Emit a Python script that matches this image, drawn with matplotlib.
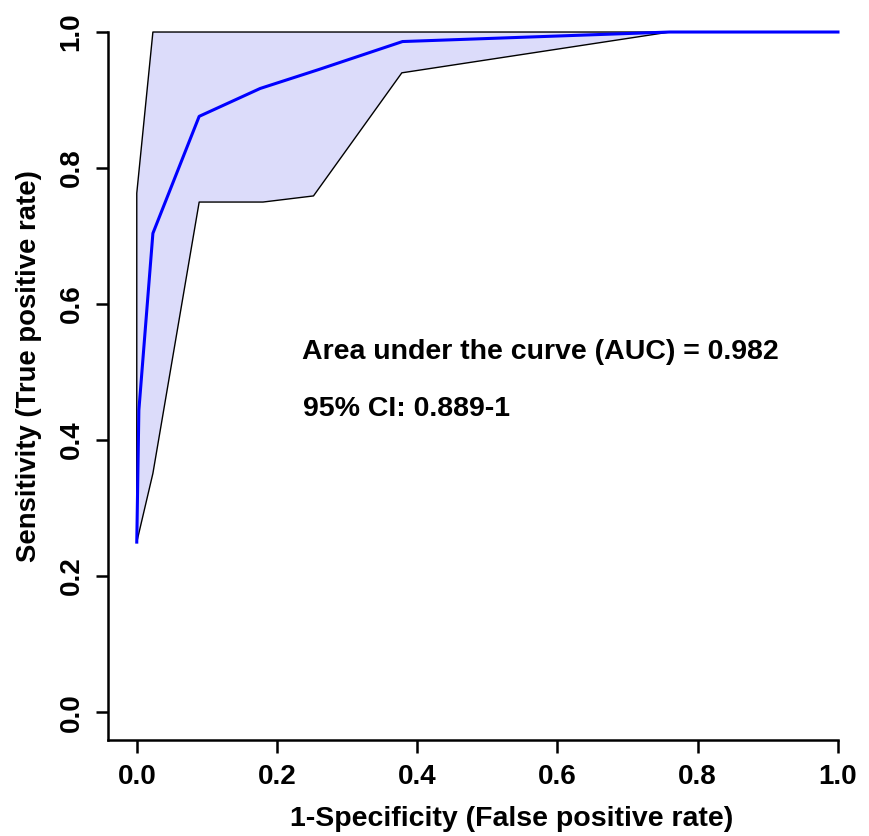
import matplotlib
matplotlib.use('Agg')
import matplotlib.pyplot as plt

# ROC curve (1-specificity vs sensitivity)
roc_fpr = [0.0, 0.003, 0.023, 0.089, 0.176, 0.26, 0.379, 0.76, 1.0]
roc_tpr = [0.25, 0.444, 0.704, 0.876, 0.917, 0.945, 0.986, 1.0, 1.0]

# confidence band edges
upper_fpr = [0.0, 0.0, 0.023, 0.76, 1.0]
upper_tpr = [0.25, 0.763, 1.0, 1.0, 1.0]
lower_fpr = [0.0, 0.023, 0.089, 0.18, 0.252, 0.378, 0.76, 1.0]
lower_tpr = [0.25, 0.351, 0.75, 0.75, 0.759, 0.94, 1.0, 1.0]

font = ['Liberation Sans', 'DejaVu Sans']

fig = plt.figure(figsize=(8.69, 8.36), dpi=100)
ax = fig.add_axes([0.1243, 0.1148, 0.84, 0.8469])

# polygon of band: upper edge then lower edge reversed
poly_x = upper_fpr + lower_fpr[::-1]
poly_y = upper_tpr + lower_tpr[::-1]
ax.fill(poly_x, poly_y, color='#dcdcfa', lw=0, clip_on=False)
ax.plot(upper_fpr, upper_tpr, color='black', lw=1, clip_on=False)
ax.plot(lower_fpr, lower_tpr, color='black', lw=1, clip_on=False)
ax.plot(roc_fpr, roc_tpr, color='#0000ff', lw=2.2, clip_on=False)

ax.text(0.235, 0.529, 'Area under the curve (AUC) = 0.982', fontsize=20.5,
        fontweight='bold', family=font, va='center', ha='left')
ax.text(0.237, 0.446, '95% CI: 0.889-1', fontsize=20.5,
        fontweight='bold', family=font, va='center', ha='left')

ax.set_xlim(-0.041, 1.0)
ax.set_ylim(-0.041, 1.0)
ax.spines['top'].set_visible(False)
ax.spines['right'].set_visible(False)
for s in ['left', 'bottom']:
    ax.spines[s].set_linewidth(1.8)

ticks = [0.0, 0.2, 0.4, 0.6, 0.8, 1.0]
ax.set_xticks(ticks)
ax.set_yticks(ticks)
ax.set_xticklabels(['%.1f' % t for t in ticks], fontsize=20, fontweight='bold', family=font)
ax.set_yticklabels(['%.1f' % t for t in ticks], fontsize=20, fontweight='bold', family=font,
                   rotation=90, va='center')
ax.tick_params(direction='out', length=9, width=1.8, pad=8)

ax.set_xlabel('1-Specificity (False positive rate)', fontsize=20.5, fontweight='bold',
              family=font, labelpad=12)
ax.set_ylabel('Sensitivity (True positive rate)', fontsize=19.8, fontweight='bold',
              family=font, labelpad=12)
ax.xaxis.label.set_x(0.553)
ax.yaxis.label.set_y(0.528)

fig.savefig('out.png', dpi=100)
